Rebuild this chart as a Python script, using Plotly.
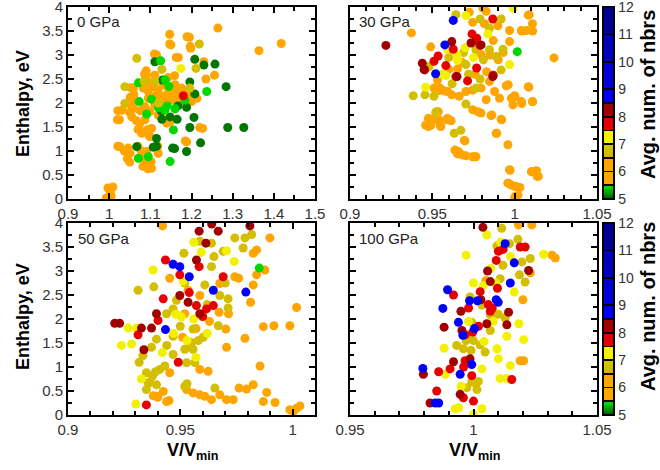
import plotly.graph_objects as go

# ---------------- data ----------------
# neighbour-count classes (value on the colour bar)
NBRS = {"DG": 5.1, "G": 5.42, "O": 5.9, "OL": 6.75, "Y": 7.25, "R": 7.75, "DR": 8.25, "B": 8.75}

# ---- 0 GPa ----
p0_O = [(1.264,3.56),(1.418,3.24),(1.364,3.09),(1.147,3.43),(1.147,3.23),(1.189,3.38),(1.198,3.14),(1.110,3.02),
        (1.163,2.95),(1.230,2.86),(1.256,2.58),(1.235,2.50),(1.086,2.60),(1.052,2.32),(1.060,2.18),(1.021,1.84),
        (1.054,1.94),(1.020,1.65),(1.050,1.80),(1.066,1.63),(1.070,1.45),(1.094,1.45),(1.098,1.31),(1.021,1.10),
        (1.037,1.00),(1.044,0.84),(1.050,0.77),(1.070,1.10),(1.078,1.00),(1.090,0.89),(1.102,0.77),(1.082,0.68),
        (1.094,0.63),(1.118,1.10),(1.185,1.21),(1.220,1.49),(0.997,0.23),(1.009,0.25),(1.003,0.13),(0.993,0.02),
        (1.005,0.06),(1.083,2.31),(1.095,2.24),(1.107,2.34),(1.119,2.27),(1.131,2.38),(1.144,2.31),(1.152,2.20),
        (1.164,2.27),(1.176,2.31),(1.188,2.24),(1.196,2.17),(1.095,2.10),(1.115,2.17),(1.128,2.13),(1.140,2.17),
        (1.152,2.06),(1.164,2.10),(1.172,2.03),(1.123,1.99),(1.136,2.03),(1.111,1.96),(1.087,1.92),(1.075,1.84),
        (1.099,1.82),(1.119,1.75),(1.136,1.65),(1.148,1.61),(1.063,2.06),(1.051,2.12),(1.099,2.42),(1.111,2.58),
        (1.160,2.38),(1.200,2.03),(1.213,2.10),(1.087,1.65),(1.075,1.44),(1.091,0.99),(1.055,1.71),(1.059,1.89),
        (1.075,1.58),(1.079,1.37),(1.103,1.47),(1.099,1.30),(1.026,1.09),(1.046,1.06),(1.051,0.95),(1.087,0.81),
        (1.091,0.67),(1.103,0.64),(1.119,0.95),(1.227,1.47),(1.188,1.19),(1.140,1.58),(1.091,2.58),(1.059,2.31),
        (1.032,1.85),(1.025,1.65),(1.197,3.18),(1.115,3.00),(1.168,2.95),(1.195,3.37),(1.150,3.21),(1.143,2.53),
        (1.159,2.57),(1.110,2.43),(1.090,2.67)]
p0_DG = [(1.111,2.86),(1.208,2.91),(1.230,2.79),(1.257,2.81),(1.130,2.48),(1.196,2.44),(1.208,2.19),(1.167,1.94),
         (1.188,1.91),(1.165,1.66),(1.206,1.70),(1.196,1.49),(1.222,1.17),(1.115,1.26),(1.107,1.08),(1.154,1.06),
         (1.188,0.99),(1.067,1.09),(1.128,1.66),(1.148,1.71),(1.284,2.34),(1.288,1.49),(1.327,1.49),(1.159,1.05),
         (1.127,1.83),(1.115,1.10)]
p0_G = [(1.103,2.08),(1.071,2.42),(1.073,2.03),(1.136,2.48),(1.141,1.94),(1.237,2.24),(1.148,0.78),(1.071,0.85),
        (1.095,0.88),(1.156,1.44),(1.184,2.06),(1.091,1.77),(1.125,2.88),(1.120,1.90),(1.135,1.85),(1.160,1.88),
        (1.145,2.35)]
p0_OL = [(1.067,2.93),(1.219,3.23),(1.211,2.72),(1.038,2.34),(1.038,1.99),(1.196,2.31),(1.128,2.70),(1.120,2.00),
         (1.085,2.45),(1.110,2.45)]
p0_Y = [(1.174,2.72)]
p0_R = [(1.180,2.15)]

# ---- 30 GPa ----
p30_DR = [(0.9218,3.20),(0.9439,2.83),(0.9618,3.28),(0.9796,3.21),(0.9867,2.55),(0.9450,2.70),(0.9650,2.55),(0.9735,3.25)]
p30_B = [(0.9627,3.72),(0.9576,3.21),(0.9520,2.61)]
p30_G = [(1.0016,3.07)]
p30_R = [(0.9867,3.75),(0.9741,3.44),(0.9765,3.30),(0.9627,3.12),(0.9535,2.98),(0.9510,2.87),(0.9453,2.69),(0.9582,2.78),
         (0.9643,2.55),(0.9769,2.73),(0.9714,2.46),(0.9790,3.20),(0.9870,2.58),(0.9770,3.35)]
p30_Y = [(0.9704,3.82),(0.9990,3.98),(0.9969,2.80),(0.9459,2.33),(0.9582,2.57),(0.9592,3.12),(0.9653,2.89),(0.9837,3.44),
         (0.9650,3.00),(0.9560,2.60),(0.9700,3.15),(0.9750,2.95)]
p30_OL = [(0.9643,3.84),(0.9790,3.75),(0.9918,3.75),(0.9847,3.56),(0.9765,3.11),(0.9847,3.11),(0.9929,3.12),(0.9888,2.97),
          (0.9918,2.69),(0.9480,2.76),(0.9384,2.15),(0.9455,2.17),(0.9510,2.14),(0.9704,1.98),(0.9633,1.37),(0.9673,1.43),
          (0.9704,2.80),(0.9765,2.31),(0.9690,3.05),(0.9600,2.95),(0.9720,2.60),(0.9620,2.40),(0.9810,2.90),(0.9520,1.80),
          (0.9790,2.50)]
p30_O = [(0.9373,3.46),(0.9490,3.17),(0.9653,2.71),(0.9806,3.98),(0.9827,3.91),(0.9724,3.89),(0.9745,3.68),(0.9816,3.65),
         (0.9898,3.61),(0.9969,3.51),(1.0041,3.51),(1.0071,3.51),(1.0088,3.84),(1.0108,3.65),(1.0239,2.94),(0.9969,3.28),
         (0.9796,3.01),(0.9531,2.48),(0.9510,2.31),(0.9541,2.26),(0.9592,2.24),(0.9618,2.17),(0.9663,2.14),(0.9704,2.24),
         (0.9745,2.27),(0.9796,2.31),(0.9847,2.45),(0.9878,2.24),(0.9908,2.10),(0.9949,2.36),(0.9980,2.10),(0.9990,1.96),
         (1.0041,2.03),(1.0086,2.33),(1.0108,2.03),(1.0000,2.15),(0.9827,2.07),(0.9745,1.86),(0.9776,1.82),(0.9796,1.79),
         (0.9857,1.74),(0.9918,1.66),(0.9888,1.37),(0.9959,1.13),(0.9694,1.22),(0.9459,1.54),(0.9500,1.66),(0.9525,1.82),
         (0.9541,1.65),(0.9592,1.68),(0.9614,1.63),(0.9490,1.53),(0.9551,1.51),(0.9637,1.02),(0.9653,0.94),(0.9680,0.92),
         (0.9704,0.90),(0.9745,0.88),(0.9765,0.88),(0.9969,0.61),(0.9959,0.33),(0.9980,0.29),(1.0010,0.26),(1.0020,0.08),
         (1.0000,0.01),(1.0102,0.57),(1.0133,0.59),(1.0137,0.47),(1.0083,3.83),(1.0043,3.50),(1.0109,3.50),(1.0083,2.34),
         (1.0043,1.99),(1.0109,2.03),(1.0002,2.13),(0.9961,2.38),(0.9861,1.75),(0.9921,1.65),(0.9891,1.37),(0.9759,0.88),
         (0.9972,0.60),(1.0103,0.57),(1.0144,0.47),(0.9961,0.33),(1.0002,0.26),(1.0032,0.24),(1.0002,0.05),(0.9547,2.31),
         (0.9577,2.25),(0.9536,1.82),(0.9476,1.68),(0.9526,1.65),(0.9587,1.65),(0.9476,1.51),(0.9547,1.54),(0.9658,0.99),
         (0.9698,1.21),(0.9850,3.00),(0.9900,2.90),(0.9930,3.05),(0.9870,3.30),(0.9680,2.85),(0.9600,2.70),(0.9760,2.60),
         (0.9830,2.65)]

# ---- 50 GPa ----
p50_DR = [(0.9208,1.91),(0.9230,1.91),(0.9327,1.81),(0.9372,1.81),(0.9394,2.11),(0.9584,3.83),(0.9669,3.83),(0.9614,3.58),
          (0.9572,3.23),(0.9587,2.11),(0.9535,2.35),(0.9498,2.49),(0.9338,1.36),(0.9810,3.94),(0.9640,3.98)]
p50_R = [(0.9434,3.23),(0.9424,2.42),(0.9401,1.97),(0.9312,1.67),(0.9349,0.21),(0.9491,1.10),(0.9498,2.92),(0.9691,2.88),
         (0.9647,2.28),(0.9617,2.21),(0.9584,3.09),(0.9572,2.28),(0.9540,2.55),(0.9600,2.05)]
p50_B = [(0.9468,3.14),(0.9498,3.09),(0.9540,2.88),(0.9647,2.60),(0.9792,2.56),(0.9434,1.78)]
p50_G = [(0.9852,3.06)]
p50_Y = [(0.9305,1.81),(0.9268,1.81),(0.9238,1.45),(0.9283,1.48),(0.9327,0.75),(0.9302,0.23),(0.9379,3.02),(0.9513,2.79),
         (0.9505,2.04),(0.9594,3.39),(0.9706,3.42),(0.9560,2.00),(0.9530,1.55),(0.9470,1.70),(0.9620,1.70),(0.9420,1.30),
         (0.9560,3.60),(0.9740,3.20),(0.9480,2.10),(0.9570,1.20)]
p50_OL = [(0.9312,2.60),(0.9382,2.67),(0.9516,3.37),(0.9587,3.62),(0.9639,3.58),(0.9691,3.41),(0.9743,3.69),(0.9788,3.69),
          (0.9818,3.76),(0.9780,3.48),(0.9639,3.09),(0.9609,2.71),(0.9676,2.49),(0.9713,2.42),(0.9713,2.23),(0.9669,1.86),
          (0.9602,1.62),(0.9557,1.79),(0.9550,1.51),(0.9520,1.37),(0.9557,1.37),(0.9528,1.09),(0.9565,1.09),(0.9483,2.39),
          (0.9468,2.21),(0.9439,2.11),(0.9394,1.58),(0.9372,1.41),(0.9334,1.24),(0.9317,1.10),(0.9349,0.88),(0.9376,0.81),
          (0.9409,0.95),(0.9431,1.02),(0.9357,0.67),(0.9349,0.53),(0.9394,0.63),(0.9468,1.26),(0.9520,0.60),(0.9654,0.56),
          (0.9468,1.64),(0.9540,1.45),(0.9580,1.55),(0.9620,2.30),(0.9650,3.30),(0.9700,2.75),(0.9520,2.75),(0.9440,1.45),
          (0.9390,0.90),(0.9500,1.85),(0.9530,0.65)]
p50_O = [(0.9421,3.94),(0.9453,2.85),(0.9535,2.60),(0.9520,2.11),(0.9510,1.62),(0.9453,0.88),(0.9424,0.49),(0.9394,0.39),
         (0.9439,0.28),(0.9364,0.67),(0.9528,0.53),(0.9557,0.46),(0.9587,0.42),(0.9609,0.39),(0.9639,0.32),(0.9676,0.42),
         (0.9706,0.32),(0.9736,0.32),(0.9762,0.56),(0.9795,0.54),(0.9825,0.63),(0.9870,0.28),(0.9885,0.47),(0.9922,0.26),
         (0.9988,0.11),(1.0003,0.07),(1.0018,0.14),(1.0033,0.19),(1.0018,2.24),(0.9988,1.86),(0.9917,1.86),(0.9870,1.84),
         (0.9855,1.02),(0.9788,1.60),(0.9706,1.41),(0.9703,1.79),(0.9673,2.14),(0.9715,2.11),(0.9743,2.88),(0.9813,2.35),
         (0.9825,2.71),(0.9840,2.92),(0.9877,3.02),(0.9899,3.69),(0.9825,3.37),(0.9840,3.44),(0.9676,2.74),(0.9587,0.95),
         (0.9624,0.91),(0.9587,2.49),(0.9400,0.37),(0.9380,0.40),(0.9450,0.30),(0.9570,1.80),(0.9760,2.85),(0.9630,1.95)]

# ---- 100 GPa ----
p100_DR = [(1.0038,3.91),(1.0057,3.00),(1.0068,2.78),(0.9949,2.16),(0.9881,1.83),(1.0054,1.90),(1.0135,1.88),(1.0142,2.14),
           (0.9953,1.76),(0.9986,1.17),(0.9919,1.11),(0.9797,0.85),(0.9946,0.43),(0.9824,0.25),(1.0223,3.01),(1.0030,2.40)]
p100_R = [(1.0189,3.50),(1.0209,3.50),(1.0101,3.41),(1.0092,3.22),(1.0097,2.64),(1.0027,2.57),(0.9919,2.50),(0.9980,2.23),
          (1.0076,2.23),(1.0068,2.16),(0.9997,1.73),(0.9966,1.67),(0.9966,1.13),(0.9859,0.90),(0.9905,0.96),(0.9993,0.82),
          (1.0155,0.74),(0.9851,0.50),(0.9959,0.36),(1.0000,0.29),(1.0060,2.30),(1.0120,3.45),(0.9960,1.00),(1.0020,1.85)]
p100_B = [(1.0128,3.57),(1.0165,3.17),(1.0149,2.75),(0.9895,2.61),(0.9876,2.22),(0.9984,2.38),(1.0016,2.38),(1.0092,2.40),
          (1.0100,2.35),(0.9939,1.93),(0.9957,1.66),(1.0004,1.80),(0.9993,1.05),(0.9946,0.85),(0.9795,0.97),(0.9845,0.25),
          (0.9859,0.25)]
p100_Y = [(1.0054,3.75),(0.9970,3.33),(1.0000,2.75),(1.0165,2.56),(1.0135,1.64),(1.0184,1.90),(1.0203,1.57),(0.9881,1.39),
          (1.0095,1.38),(1.0101,1.17),(1.0149,1.03),(1.0108,0.76),(1.0135,0.76),(1.0034,0.96),(1.0034,0.13),(0.9926,0.13),
          (1.0000,0.01),(1.0284,3.35),(0.9980,1.95),(1.0043,1.53),(0.9886,0.85),(1.0040,2.70),(1.0090,2.75),(1.0070,3.05),
          (1.0150,3.30),(1.0080,1.95),(0.9950,0.60),(0.9940,0.15),(1.0110,3.60)]
p100_OL = [(1.0114,3.89),(1.0095,3.52),(1.0146,3.57),(1.0180,3.66),(1.0119,3.12),(1.0196,3.19),(1.0230,3.26),(1.0186,2.92),
           (1.0209,2.77),(1.0108,2.84),(0.9986,2.46),(1.0034,2.29),(1.0068,2.09),(1.0128,2.02),(0.9993,1.93),(1.0068,1.76),
           (0.9989,1.62),(0.9970,1.55),(0.9932,1.45),(0.9959,1.38),(1.0027,1.46),(1.0047,1.31),(0.9993,0.69),(0.9973,0.57),
           (1.0014,0.53),(1.0000,1.55),(0.9990,1.35),(1.0020,0.70),(1.0100,2.10)]
p100_O = [(1.0182,3.96),(1.0236,3.96),(1.0318,3.33),(1.0331,3.27),(1.0230,2.96),(1.0200,2.40),(1.0189,1.13),(1.0203,1.13),
          (1.0010,0.65),(1.0050,2.80)]

panel_labels = ["0 GPa", "30 GPa", "50 GPa", "100 GPa"]
cbar_ticks = [5, 6, 7, 8, 9, 10, 11, 12]

# colour-bar segments: (low, high, colour at low, colour at high)
segments = [(5, 5.5, "#005a00", "#00e600"), (5.5, 6, "#ffa500", "#ffa500"), (6, 6.5, "#ffa500", "#ffa500"),
            (6.5, 7, "#d9b000", "#cccc00"), (7, 7.5, "#eeee00", "#f5f500"), (7.5, 8, "#e60000", "#e60000"),
            (8, 8.5, "#a00000", "#a00000"), (8.5, 9, "#0000ff", "#0000ff"), (9, 10, "#0000e0", "#0000d4"),
            (10, 11, "#0000c4", "#0000b8"), (11, 12, "#00009c", "#000090")]


def build_scale():
    lo, hi = 5.0, 12.0
    eps = 0.0045
    cs = []
    for j, (a, b, ca, cb) in enumerate(segments):
        fa, fb = (a - lo) / (hi - lo), (b - lo) / (hi - lo)
        if j == 0:
            cs.append([0.0, ca])
        else:
            cs.append([fa + eps, "black"])
            cs.append([fa + eps, ca])
        if j == len(segments) - 1:
            cs.append([1.0, cb])
        else:
            cs.append([fb - eps, cb])
            cs.append([fb - eps, "black"])
    return cs


def gather(groups):
    xs, ys, cs = [], [], []
    for key, pts in groups:
        for x, y in pts:
            xs.append(x); ys.append(y); cs.append(NBRS[key])
    return xs, ys, cs


panels = [
    [("O", p0_O), ("DG", p0_DG), ("G", p0_G), ("OL", p0_OL), ("Y", p0_Y), ("R", p0_R)],
    [("O", p30_O), ("OL", p30_OL), ("Y", p30_Y), ("R", p30_R), ("DR", p30_DR), ("B", p30_B), ("G", p30_G)],
    [("O", p50_O), ("OL", p50_OL), ("Y", p50_Y), ("R", p50_R), ("DR", p50_DR), ("B", p50_B), ("G", p50_G)],
    [("O", p100_O), ("OL", p100_OL), ("Y", p100_Y), ("R", p100_R), ("DR", p100_DR), ("B", p100_B)],
]

W, H = 660, 470
ML, MR, MT, MB = 68, 63, 7, 55          # plot-area margins (px)
PW, PH = W - ML - MR, H - MT - MB
FONT = "Liberation Sans, Arial, sans-serif"


def fx(px):   # pixel x -> plot-area (paper) fraction
    return (px - ML) / PW


def fy(py):   # pixel y (from top) -> plot-area (paper) fraction
    return (H - MB - py) / PH


fig = go.Figure()
for i, groups in enumerate(panels):
    xs, ys, cs = gather(groups)
    suffix = "" if i == 0 else str(i + 1)
    fig.add_trace(go.Scatter(
        x=xs, y=ys, mode="markers", xaxis="x" + suffix, yaxis="y" + suffix,
        marker=dict(size=9, color=cs, coloraxis="coloraxis" if i < 2 else "coloraxis2", line=dict(width=0), opacity=1),
        showlegend=False, hoverinfo="skip"))

xd = [[fx(68), fx(315)], [fx(350), fx(597)]]
yd = [[fy(199), fy(7)], [fy(415), fy(223)]]

xcfg = [
    dict(range=[0.9, 1.5], tickvals=[0.9, 1, 1.1, 1.2, 1.3, 1.4, 1.5], ticktext=["0.9", "1", "1.1", "1.2", "1.3", "1.4", "1.5"], minor=0.05),
    dict(range=[0.9, 1.05], tickvals=[0.9, 0.95, 1, 1.05], ticktext=["0.9", "0.95", "1", "1.05"], minor=0.01),
    dict(range=[0.9, 1.01], tickvals=[0.9, 0.95, 1], ticktext=["0.9", "0.95", "1"], minor=0.01),
    dict(range=[0.95, 1.05], tickvals=[0.95, 1, 1.05], ticktext=["0.95", "1", "1.05"], minor=0.01),
]

common = dict(showline=True, linecolor="black", linewidth=2, mirror="ticks", ticks="inside", ticklen=6,
              tickwidth=2, tickcolor="black", showgrid=False, zeroline=False, automargin=False,
              ticklabeloverflow="allow", tickfont=dict(family=FONT, size=15, color="#333333"))

layout = dict(width=W, height=H, margin=dict(l=ML, r=MR, t=MT, b=MB, autoexpand=False),
              paper_bgcolor="white", plot_bgcolor="white", font=dict(family=FONT))

for i in range(4):
    suffix = "" if i == 0 else str(i + 1)
    col, row = i % 2, i // 2
    xc = xcfg[i]
    layout["xaxis" + suffix] = dict(common, domain=xd[col], range=xc["range"], tickmode="array",
                                    tickvals=xc["tickvals"], ticktext=xc["ticktext"], anchor="y" + suffix,
                                    minor=dict(dtick=xc["minor"], tick0=0.9, ticks="inside", ticklen=4,
                                               tickwidth=2, tickcolor="black"))
    layout["yaxis" + suffix] = dict(common, domain=yd[row], range=[0, 4], tickmode="array",
                                    tickvals=[0, 0.5, 1, 1.5, 2, 2.5, 3, 3.5, 4],
                                    ticktext=["0", "0.5", "1", "1.5", "2", "2.5", "3", "3.5", "4"],
                                    showticklabels=(col == 0), anchor="x" + suffix,
                                    minor=dict(dtick=0.25, ticks="inside", ticklen=4, tickwidth=2, tickcolor="black"))

scale = build_scale()
for k, row in (("coloraxis", 0), ("coloraxis2", 1)):
    layout[k] = dict(cmin=5, cmax=12, colorscale=scale, colorbar=dict(
        x=fx(603), xanchor="left", xpad=0, ypad=0, thickness=11, thicknessmode="pixels",
        len=(yd[row][1] - yd[row][0]), lenmode="fraction", y=yd[row][1], yanchor="top",
        outlinecolor="black", outlinewidth=2, tickmode="array", tickvals=cbar_ticks,
        ticktext=[str(t) for t in cbar_ticks], ticks="", ticklabeloverflow="allow",
        tickfont=dict(family=FONT, size=14, color="#333333")))

ann = []
lab_pos = [(75, 22), (357, 22), (76, 238), (357, 238)]
for t, (x, y) in zip(panel_labels, lab_pos):
    ann.append(dict(text=t, x=fx(x), y=fy(y), xref="paper", yref="paper", xanchor="left", yanchor="middle",
                    showarrow=False, font=dict(family=FONT, size=15, color="#222222")))
for yc in (104, 317):
    ann.append(dict(text="<b>Enthalpy, eV</b>", x=fx(23), y=fy(yc), xref="paper", yref="paper", textangle=-90,
                    xanchor="center", yanchor="middle", showarrow=False, font=dict(family=FONT, size=18, color="black")))
for xc in (192, 474):
    ann.append(dict(text="<b>V/V<sub>min</sub></b>", x=fx(xc), y=fy(452), xref="paper", yref="paper",
                    xanchor="center", yanchor="middle", showarrow=False, font=dict(family=FONT, size=18, color="black")))
for yc in (95, 307):
    ann.append(dict(text="<b>Avg. num. of nbrs</b>", x=fx(648), y=fy(yc), xref="paper", yref="paper",
                    textangle=-90, xanchor="center", yanchor="middle", showarrow=False,
                    font=dict(family=FONT, size=20, color="black")))
layout["annotations"] = ann

fig.update_layout(layout)
# the page's default 8px body margin would shift the whole figure; remove it
fig.write_html("out.html", config={"displayModeBar": False},
               post_script="document.body.style.margin='0';")
